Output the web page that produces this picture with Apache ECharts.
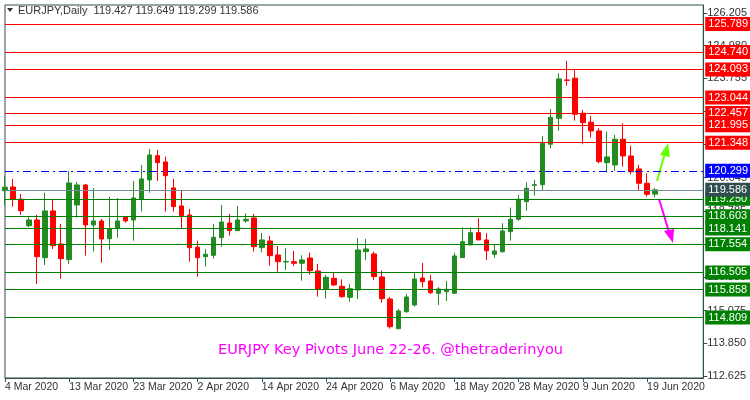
<!DOCTYPE html>
<html><head><meta charset="utf-8">
<script src="https://cdn.jsdelivr.net/npm/echarts@6/dist/echarts.min.js"></script>
<style>html,body{margin:0;padding:0;background:#fff}#c{width:750px;height:400px}</style>
</head><body><div id="c"></div>
<script>
// OHLC per bar: open, close, low, high
const opens = [119.557,119.695,119.235,118.248,118.461,117.050,118.798,117.563,116.976,119.022,119.770,118.274,118.423,117.761,118.150,118.573,118.461,119.235,119.957,120.866,120.631,119.658,118.985,118.648,117.440,117.088,117.140,117.799,118.349,118.060,118.423,118.536,117.425,117.675,117.151,116.889,116.901,116.841,117.039,116.553,115.868,116.280,115.980,115.569,115.842,117.275,117.189,116.329,115.505,114.394,115.031,115.281,116.291,116.179,115.718,115.778,115.718,117.050,117.526,117.986,117.713,117.178,117.275,118.023,118.487,119.145,119.759,119.781,121.293,122.265,123.698,123.762,122.452,122.116,121.790,120.604,120.518,121.480,120.855,120.369,119.834,119.427];
const closes = [119.684,119.235,118.809,118.461,117.088,118.798,117.499,117.013,119.845,119.770,118.274,118.423,117.750,118.135,118.423,118.423,119.284,119.995,120.892,120.604,120.118,118.958,118.622,117.425,117.050,117.178,117.813,118.386,118.060,118.461,118.487,117.462,117.713,117.125,116.901,116.908,116.841,116.965,116.564,115.868,116.317,116.029,115.592,115.891,117.338,117.376,116.340,115.517,114.469,115.057,115.580,116.254,116.153,115.741,115.880,115.868,117.114,117.649,117.986,117.713,117.312,117.301,118.049,118.487,119.235,119.647,119.781,121.330,122.303,123.736,123.680,122.415,122.101,121.790,120.642,120.818,121.480,120.855,120.268,119.834,119.422,119.586];
const lows = [118.985,118.958,118.648,118.188,116.067,116.777,117.376,116.265,116.815,118.547,117.125,117.275,116.863,117.338,117.799,118.360,117.686,118.772,119.482,119.920,118.772,118.772,118.162,116.901,116.340,116.714,117.013,117.462,117.874,118.060,118.360,117.275,117.252,116.751,116.527,116.590,116.740,116.190,116.414,115.592,115.517,115.992,115.554,115.404,115.505,116.964,116.215,115.367,114.394,114.394,114.993,115.217,115.943,115.692,115.281,115.430,115.718,117.050,117.526,117.713,116.964,117.050,117.237,117.686,118.435,118.809,119.370,119.583,121.143,121.801,123.485,122.176,121.293,121.540,120.582,120.245,120.294,120.455,120.170,119.557,119.333,119.299];
const highs = [120.107,119.995,119.433,118.584,118.648,119.482,119.209,118.311,120.294,119.882,119.808,119.658,118.498,119.321,119.284,118.610,119.920,120.518,121.117,121.080,120.829,119.995,119.583,118.872,117.686,117.376,118.311,119.022,118.685,118.985,118.711,118.685,117.975,117.862,117.488,117.402,117.301,117.140,117.237,116.815,116.403,116.489,116.242,116.067,117.776,117.750,117.275,116.564,115.580,115.131,115.692,116.489,116.852,116.403,115.943,116.179,117.237,118.188,118.188,118.524,117.963,117.526,118.338,118.921,119.396,119.871,119.957,121.603,122.613,123.949,124.409,124.098,122.576,122.351,121.891,121.764,121.641,122.078,121.240,120.518,120.208,119.649];
const tickLabels = ['4 Mar 2020','13 Mar 2020','23 Mar 2020','2 Apr 2020','14 Apr 2020','24 Apr 2020','6 May 2020','18 May 2020','28 May 2020','9 Jun 2020','19 Jun 2020'];
const yTicks = [126.205,124.980,123.755,122.530,121.290,120.045,118.785,117.540,116.335,115.075,113.850,112.625];
const resistance = [125.789,124.740,124.093,123.044,122.457,121.995,121.348];
const support = [119.250,118.603,118.141,117.554,116.505,115.858,114.809];
const pivotMid = 120.299;
const lastPrice = 119.586;

const N = 88;
const cats = Array.from({length:N},(_,i)=>String(i));
const data = opens.map((o,i)=>[o,closes[i],lows[i],highs[i]]);
const F = 'Liberation Sans';
function ml(v,lineColor,boxColor,type){
  return {yAxis:v,lineStyle:{color:lineColor,type:type||'solid',width:1,opacity:1},
    label:{show:true,position:'end',formatter:v.toFixed(3),color:'#fff',backgroundColor:boxColor,padding:[2,3,1,3],fontSize:11,fontFamily:F,distance:2}};
}
function group(vals,lineColor,boxColor,type){
  return {type:'line',data:[],silent:true,color:lineColor,itemStyle:{color:lineColor},lineStyle:{color:lineColor},
    markLine:{symbol:'none',silent:true,animation:false,
      lineStyle:{color:lineColor,type:type||'solid',width:1,opacity:1},
      data:vals.map(v=>ml(v,lineColor,boxColor,type))}};
}

const chart = echarts.init(document.getElementById('c'));
chart.setOption({
  animation:false,
  backgroundColor:'#fff',
  grid:{left:5,right:46,top:5,bottom:22,show:true,borderColor:'#2f4f4f',borderWidth:1},
  xAxis:{type:'category',data:cats,boundaryGap:false,
    axisLine:{lineStyle:{color:'#2f4f4f'}},
    axisTick:{show:true,length:4,interval:(i)=>i%8===0&&i/8<tickLabels.length,lineStyle:{color:'#2f4f4f'}},
    axisLabel:{interval:(i)=>i%8===0&&i/8<tickLabels.length,formatter:(v,i)=>tickLabels[i/8]||'',align:'left',color:'#333',fontSize:10.5,fontFamily:F,margin:4,hideOverlap:false},
    splitLine:{show:false}},
  yAxis:{type:'value',position:'right',min:112.55,max:126.50,
    axisLine:{show:true,lineStyle:{color:'#2f4f4f'}},
    axisTick:{show:true,length:4,customValues:yTicks,lineStyle:{color:'#2f4f4f'}},
    axisLabel:{customValues:yTicks,formatter:v=>v.toFixed(3),color:'#333',fontSize:11,fontFamily:F,margin:4},
    splitLine:{show:false}},
  series:[
    group(resistance,'#ff0000','#ff0000'),
    group(support,'#008000','#008000'),
    group([lastPrice],'#778899','#2f4f4f'),
    group([pivotMid],'#0000ff','#0000ff',[8,4,2,4]),
    {type:'candlestick',data:data,barWidth:5,z:3,
    itemStyle:{color:'#228b22',color0:'#ff0000',borderColor:'#228b22',borderColor0:'#ff0000',borderWidth:1}}],
  graphic:[
    {type:'polygon',shape:{points:[[7,8],[13,8],[10,12]]},style:{fill:'#333'}},
    {type:'text',left:18,top:5,style:{text:'EURJPY,Daily  119.427 119.649 119.299 119.586',fill:'#333',font:'11px '+F}},
    {type:'text',left:218,top:343,style:{text:'EURJPY Key Pivots June 22-26. @thetraderinyou',fill:'#ff00ff',font:'14.5px "DejaVu Sans"'}},
    {type:'line',shape:{x1:657,y1:181,x2:665,y2:153},style:{stroke:'#66ff00',lineWidth:2}},
    {type:'polygon',shape:{points:[[668,143],[660,155],[670,157]]},style:{fill:'#66ff00'}},
    {type:'line',shape:{x1:659,y1:199,x2:669,y2:232},style:{stroke:'#ff00ff',lineWidth:2}},
    {type:'polygon',shape:{points:[[673,243],[664,231],[674,229]]},style:{fill:'#ff00ff'}}
  ]
});
</script></body></html>
